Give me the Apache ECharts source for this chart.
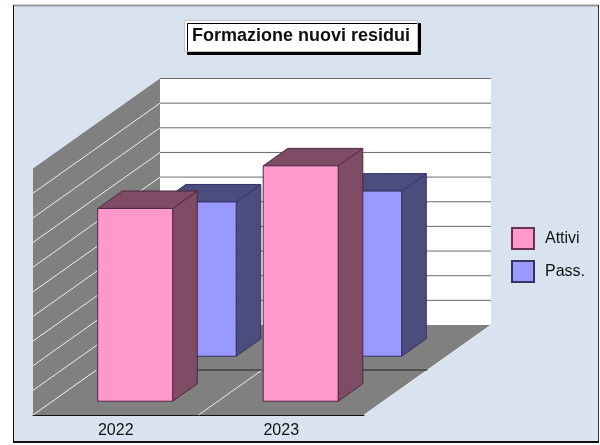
<!DOCTYPE html>
<html>
<head>
<meta charset="utf-8">
<style>
  html, body { margin: 0; padding: 0; background: #fff; }
  #chart { width: 600px; height: 445px; }
</style>
<script src="https://cdn.jsdelivr.net/npm/echarts@6/dist/echarts.min.js"></script>
</head>
<body>
<div id="chart"></div>
<script>
const titleText = "Formazione nuovi residui";
const categories = ["2022", "2023"];
const seriesNames = ["Attivi", "Pass."];
const attivi = [7.82, 9.55];
const passivi = [6.26, 6.7];
const valueTicks = [0, 1, 2, 3, 4, 5, 6, 7, 8, 9, 10];

// 3D look: depth 1 is the back wall, every point is shifted by this much
const depthX = 127;
const depthY = -90;
const barWidth = 0.453;
const barDepth = 0.194;

const INK = "#111";
const FLOOR = "#808080";

const point = (api, x, v, z) => {
  const p = api.coord([x, v]);
  return [p[0] + z * depthX, p[1] + z * depthY];
};

const polygon = (points, fill, stroke) => ({
  type: "polygon",
  shape: {points},
  silent: true,
  style: {fill, stroke: stroke || null, lineWidth: stroke ? 1 : 0},
});

const line = (a, b, stroke, lineWidth) => ({
  type: "line",
  shape: {x1: a[0], y1: a[1], x2: b[0], y2: b[1]},
  silent: true,
  style: {stroke, lineWidth: lineWidth || 1},
});

// Walls, floor and their grid lines
const renderRoom = (params, api) => {
  const xMax = categories.length;
  const yMax = valueTicks[valueTicks.length - 1];
  const children = [
    polygon([point(api, 0, 0, 1), point(api, xMax, 0, 1), point(api, xMax, yMax, 1), point(api, 0, yMax, 1)], "#fff"),
    polygon([point(api, 0, 0, 0), point(api, 0, 0, 1), point(api, 0, yMax, 1), point(api, 0, yMax, 0)], FLOOR),
    polygon([point(api, 0, 0, 0), point(api, xMax, 0, 0), point(api, xMax, 0, 1), point(api, 0, 0, 1)], FLOOR),
  ];
  valueTicks.forEach((v) => {
    if (v > 0) {
      children.push(line(point(api, 0, v, 1), point(api, xMax, v, 1), "#6a6a6a"));
      if (v < yMax) children.push(line(point(api, 0, v, 0), point(api, 0, v, 1), "#eee"));
    }
  });
  children.push(line(point(api, 0, 0, 0), point(api, 0, 0, 1), "#eee"));
  for (let i = 1; i <= xMax; i++) {
    children.push(line(point(api, i, 0, 0), point(api, i, 0, 1), "#eee"));
  }
  children.push(line(point(api, 0, 0, 0.5), point(api, xMax, 0, 0.5), "#222"));
  return {type: "group", children};
};

const renderBar = (row, face, side, edge) => (params, api) => {
  const cx = api.value(0);
  const v = api.value(1);
  const x0 = cx - barWidth / 2;
  const x1 = cx + barWidth / 2;
  const z0 = row - barDepth / 2;
  const z1 = row + barDepth / 2;
  return {
    type: "group",
    children: [
      polygon([point(api, x1, 0, z0), point(api, x1, 0, z1), point(api, x1, v, z1), point(api, x1, v, z0)], side, edge),
      polygon([point(api, x0, v, z0), point(api, x1, v, z0), point(api, x1, v, z1), point(api, x0, v, z1)], side, edge),
      polygon([point(api, x0, 0, z0), point(api, x1, 0, z0), point(api, x1, v, z0), point(api, x0, v, z0)], face, edge),
    ],
  };
};

const barData = (values) => values.map((v, i) => [i + 0.5, v]);

const chart = echarts.init(document.getElementById("chart"));

chart.setOption({
  animation: false,
  graphic: [
    {type: "rect", z: -1, silent: true, shape: {x: 13, y: 6, width: 586, height: 436}, style: {fill: "#d9e3f0"}},
    {type: "line", z: -1, silent: true, shape: {x1: 13, y1: 5.5, x2: 599, y2: 5.5}, style: {stroke: "#9a9a9a", lineWidth: 2}},
    {type: "line", z: -1, silent: true, shape: {x1: 13.5, y1: 5, x2: 13.5, y2: 443}, style: {stroke: INK, lineWidth: 1}},
    {type: "line", z: -1, silent: true, shape: {x1: 598.5, y1: 5, x2: 598.5, y2: 443}, style: {stroke: "#333", lineWidth: 1}},
    {type: "line", z: -1, silent: true, shape: {x1: 13, y1: 442, x2: 599, y2: 442}, style: {stroke: INK, lineWidth: 2}},
  ],
  title: {
    text: titleText,
    left: 184,
    top: 20,
    padding: [6, 8, 6, 8],
    backgroundColor: "#fff",
    borderColor: "#c4c4c4",
    borderWidth: 1,
    shadowColor: "#000",
    shadowBlur: 0,
    shadowOffsetX: 3,
    shadowOffsetY: 3,
    textStyle: {
      fontFamily: "Liberation Sans",
      fontWeight: "bold",
      fontSize: 18,
      lineHeight: 20,
      color: "#111",
    },
  },
  legend: {
    left: 506,
    top: 222,
    orient: "vertical",
    icon: "rect",
    itemWidth: 22,
    itemHeight: 21,
    itemGap: 10,
    selectedMode: false,
    data: seriesNames,
    textStyle: {
      fontFamily: "Liberation Sans",
      fontSize: 16,
      color: "#111",
      padding: [0, 0, 0, 6],
    },
  },
  grid: {left: 33, top: 168.5, width: 331, height: 246.5},
  xAxis: [
    {
      type: "category",
      data: categories,
      axisLine: {lineStyle: {color: INK, width: 1}},
      axisTick: {length: 15, lineStyle: {color: INK, width: 1}},
      axisLabel: {fontFamily: "Liberation Sans", fontSize: 16, color: "#111", margin: 8},
    },
    {type: "value", min: 0, max: categories.length, show: false},
  ],
  yAxis: {
    type: "value",
    min: 0,
    max: valueTicks[valueTicks.length - 1],
    interval: 1,
    show: false,
    splitLine: {show: false},
  },
  series: [
    {
      type: "custom",
      silent: true,
      clip: false,
      xAxisIndex: 1,
      z: 1,
      data: [[0, 0]],
      renderItem: renderRoom,
    },
    {
      name: seriesNames[1],
      type: "custom",
      silent: true,
      clip: false,
      xAxisIndex: 1,
      z: 2,
      itemStyle: {color: "#9999ff", borderColor: "#333366", borderWidth: 1},
      data: barData(passivi),
      encode: {x: 0, y: 1},
      renderItem: renderBar(0.75, "#9999ff", "#4c4c7f", "#333366"),
    },
    {
      name: seriesNames[0],
      type: "custom",
      silent: true,
      clip: false,
      xAxisIndex: 1,
      z: 3,
      itemStyle: {color: "#ff99cc", borderColor: "#663355", borderWidth: 1},
      data: barData(attivi),
      encode: {x: 0, y: 1},
      renderItem: renderBar(0.25, "#ff99cc", "#7f4c66", "#4d2a40"),
    },
  ],
});
</script>
</body>
</html>
